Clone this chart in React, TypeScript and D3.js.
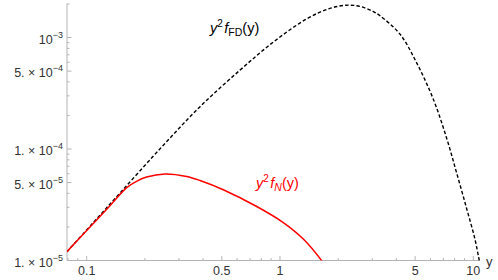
import React from "react";
import * as d3 from "d3";

// y²·f_FD(y): [y, value]
const fdPoints: [number, number][] = [
  [0.0791, 1.2e-5], [0.108, 2.18e-5], [0.15, 4.1e-5], [0.239, 1.0e-4],
  [0.386, 2.4e-4], [0.621, 5.1e-4], [0.923, 9.1e-4], [1.374, 1.47e-3],
  [1.8, 1.82e-3], [2.213, 1.95e-3], [2.6, 1.9e-3], [3.04, 1.71e-3],
  [3.29, 1.57e-3], [4.18, 1.07e-3], [5.1, 5.9e-4], [6.21, 2.8e-4],
  [7.28, 1.25e-4], [8.2, 6.1e-5], [9.25, 2.9e-5], [10.2, 1.55e-5],
  [10.74, 1.0e-5], [10.95, 8.6e-6],
];

// y²·f_N(y)
const nPoints: [number, number][] = [
  [0.0791, 1.2e-5], [0.1, 1.86e-5], [0.132, 3.1e-5], [0.161, 4.5e-5],
  [0.18, 5.1e-5], [0.204, 5.6e-5], [0.254, 5.97e-5], [0.329, 5.67e-5],
  [0.386, 5.22e-5], [0.509, 4.31e-5], [0.758, 3.05e-5], [1.04, 2.19e-5],
  [1.32, 1.56e-5], [1.64, 1.0e-5], [1.75, 8.4e-6],
];

const xMajor = [0.1, 0.5, 1, 5, 10];
const xMajorLabels = ["0.1", "0.5", "1", "5", "10"];
const xMinor = [0.08, 0.09, 0.2, 0.3, 0.4, 0.6, 0.7, 0.8, 0.9, 2, 3, 4, 6, 7, 8, 9];

const yMajor = [1e-5, 5e-5, 1e-4, 5e-4, 1e-3];
const yMajorMant = ["1. × 10", "5. × 10", "1. × 10", "5. × 10", "10"];
const yMajorExp = ["−5", "−5", "−4", "−4", "−3"];
const yMinor = [
  2e-5, 3e-5, 4e-5, 6e-5, 7e-5, 8e-5, 9e-5,
  2e-4, 3e-4, 4e-4, 6e-4, 7e-4, 8e-4, 9e-4, 2e-3,
];

const xDomain = [0.0791, 10.83];
const yDomain = [1e-5, 2.02e-3];

export default function App() {
  const left = 67, right = 480, top = 3.5, bottom = 260.5;
  const x = d3.scaleLog().domain(xDomain).range([left, right]);
  const y = d3.scaleLog().domain(yDomain).range([bottom, top]);
  const line = d3
    .line<[number, number]>()
    .x((d) => x(d[0]))
    .y((d) => y(d[1]))
    .curve(d3.curveCatmullRom.alpha(0.5));

  const axisColor = "#b4b4b4";
  const labelColor = "#333";
  const font = "'Liberation Sans', Arial, sans-serif";

  return (
    <svg
      width={498}
      height={280}
      style={{ position: "absolute", left: 0, top: 0, background: "#fff" }}
      fontFamily={font}
    >
      <defs>
        <clipPath id="plotclip">
          <rect x={left} y={0} width={right - left + 2} height={bottom} />
        </clipPath>
      </defs>

      {/* axes */}
      <line x1={left} x2={right} y1={bottom} y2={bottom} stroke={axisColor} strokeWidth={1} />
      <line x1={left} x2={left} y1={top} y2={bottom} stroke={axisColor} strokeWidth={1} />

      {/* x ticks */}
      {xMajor.map((v) => (
        <line key={"xM" + v} x1={x(v)} x2={x(v)} y1={bottom} y2={bottom - 4.5} stroke={axisColor} />
      ))}
      {xMinor.map((v) => (
        <line key={"xm" + v} x1={x(v)} x2={x(v)} y1={bottom} y2={bottom - 2.5} stroke={axisColor} />
      ))}
      {xMajor.map((v, i) => (
        <text key={"xl" + v} x={x(v)} y={275} textAnchor="middle" fontSize={12.5} fill={labelColor}>
          {xMajorLabels[i]}
        </text>
      ))}
      <text x={486} y={266} fontSize={13} fill={labelColor}>y</text>

      {/* y ticks */}
      {yMajor.map((v) => (
        <line key={"yM" + v} x1={left} x2={left + 4.5} y1={y(v)} y2={y(v)} stroke={axisColor} />
      ))}
      {yMinor.map((v) => (
        <line key={"ym" + v} x1={left} x2={left + 2.5} y1={y(v)} y2={y(v)} stroke={axisColor} />
      ))}
      {yMajor.map((v, i) => (
        <text key={"yl" + v} x={63} y={y(v) + 6} textAnchor="end" fontSize={12.5} fill={labelColor}>
          {yMajorMant[i]}
          <tspan fontSize={9} dy={-6}>{yMajorExp[i]}</tspan>
        </text>
      ))}

      {/* curves */}
      <g clipPath="url(#plotclip)">
        <path d={line(fdPoints) || ""} fill="none" stroke="#000" strokeWidth={1.4} strokeDasharray="3.5,2.2" />
        <path d={line(nPoints) || ""} fill="none" stroke="#ff0000" strokeWidth={1.5} />
      </g>

      {/* labels */}
      <text x={210} y={33} fontSize={14.5} fill="#000">
        <tspan fontStyle="italic">y</tspan>
        <tspan fontSize={10} dy={-6}>2</tspan>
        <tspan fontStyle="italic" dy={6} dx={1.5}>f</tspan>
        <tspan fontSize={10.5} dy={2.5}>FD</tspan>
        <tspan dy={-2.5}>(y)</tspan>
      </text>
      <text x={256} y={188} fontSize={14.5} fill="#ff0000">
        <tspan fontStyle="italic">y</tspan>
        <tspan fontSize={10} dy={-6}>2</tspan>
        <tspan fontStyle="italic" dy={6} dx={1.5}>f</tspan>
        <tspan fontSize={10.5} fontStyle="italic" dy={2.5}>N</tspan>
        <tspan dy={-2.5}>(y)</tspan>
      </text>
    </svg>
  );
}
